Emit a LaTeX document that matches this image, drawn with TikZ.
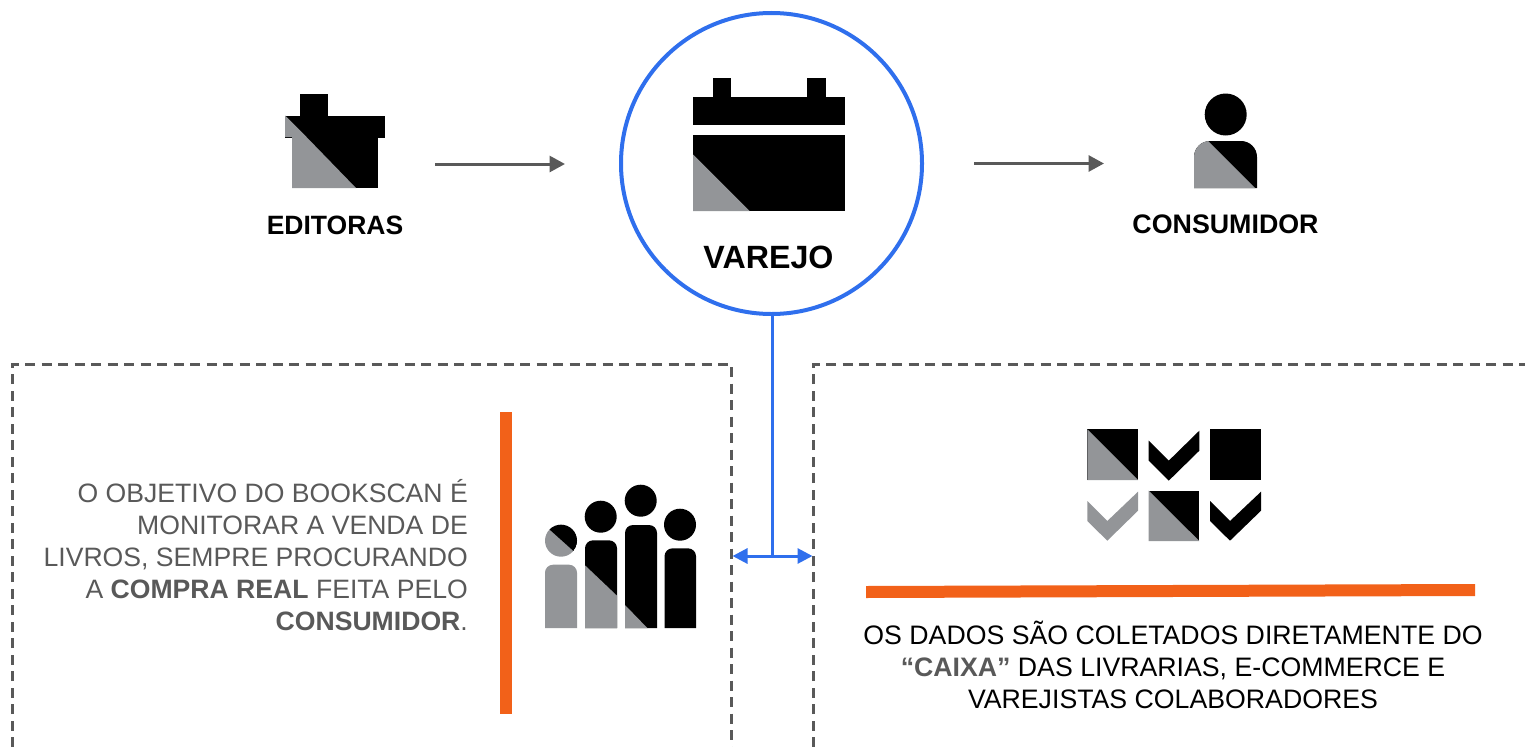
\documentclass[tikz,border=0pt]{standalone}
\usepackage{fontspec}
\setmainfont{Liberation Sans}
\usetikzlibrary{arrows.meta}
\definecolor{icongray}{HTML}{939598}
\definecolor{dashgray}{HTML}{595959}
\definecolor{txtgray}{HTML}{595959}
\definecolor{ringblue}{HTML}{2F6FED}
\definecolor{barorange}{HTML}{F26119}
\tikzset{
  lbl/.style={font=\fontsize{26.5bp}{30bp}\selectfont\bfseries, text=black, inner sep=0pt},
  flow/.style={draw=dashgray, line width=3bp, -{Triangle[length=15.5bp,width=16bp]}},
  link/.style={draw=ringblue, line width=3.5bp},
  reach/.style={draw=ringblue, line width=3bp, {Triangle[length=15bp,width=15bp]}-{Triangle[length=15bp,width=15bp]}},
  panel/.style={draw=dashgray, line width=3bp, dash pattern=on 10bp off 6.5bp},
  gr/.style={fill=icongray, draw=none},
  bk/.style={fill=black, draw=none},
  bar/.style={fill=barorange, draw=none},
}
\begin{document}
\begin{tikzpicture}[x=1bp,y=-1bp]
\useasboundingbox (0,0) rectangle (1525,747);
\clip (0,0) rectangle (1525,747);
% panels
\draw[panel] (12,747) -- (12,364) -- (731.5,364) -- (731.5,747);
\draw[panel] (813,747) -- (813,364) -- (1525,364);
% central ring
\node (varejo) [circle, draw=ringblue, line width=4bp, minimum size=301bp, inner sep=0pt] at (771.5,163.5) {};
\node (varejotxt) [lbl, font=\fontsize{32.2bp}{36bp}\selectfont\bfseries] at (768.5,257) {VAREJO};
\node (editoras) [lbl] at (335,225) {EDITORAS};
\node (consumidor) [lbl, font=\fontsize{26.8bp}{30bp}\selectfont\bfseries] at (1225.5,224) {CONSUMIDOR};
% flow arrows
\coordinate (f1a) at (435,164); \coordinate (f1b) at (565,164);
\coordinate (f2a) at (974,163.5); \coordinate (f2b) at (1104,163.5);
\draw[flow] (f1a) -- (f1b);
\draw[flow] (f2a) -- (f2b);
% blue connectors
\coordinate (jn) at (772.5,556);
\coordinate (jl) at (732.5,556); \coordinate (jr) at (812.5,556);
\draw[link] (varejo.south -| jn) -- (jn);
\draw[reach] (jl) -- (jr);
% house
\fill[bk] (299.5,93.5) rectangle (328,116);
\fill[bk] (285,115.5) rectangle (385,137.5);
\fill[bk] (292,137) rectangle (378,188);
\fill[gr] (285,115.5) -- (306.5,137) -- (285,137) -- cycle;
\fill[gr] (292,137) -- (306.5,137) -- (356,188) -- (292,188) -- cycle;
% battery
\fill[bk] (712.7,77.5) rectangle (731,97.5);
\fill[bk] (807.3,77.5) rectangle (826,97.5);
\fill[bk] (693,97) rectangle (845,125);
\fill[bk] (693,135) rectangle (845,211);
\fill[gr] (693,154.5) -- (749.5,211) -- (693,211) -- cycle;
% person
\fill[bk] (1225.7,114.5) circle[radius=21];
\fill[bk] (1194,188) [rounded corners=16] -- (1194,141) -- (1257,141) [sharp corners] -- (1257,188) -- cycle;
\begin{scope}
\clip (1194,188) [rounded corners=16] -- (1194,141) -- (1257,141) [sharp corners] -- (1257,188) -- cycle;
\fill[gr] (1194,188) -- (1190,141) -- (1208,141) -- (1255,188) -- cycle;
\end{scope}
% people
\fill[gr] (561,540.7) circle[radius=16];
\begin{scope}
\clip (561,540.7) circle[radius=16];
\fill[bk] (549,529) -- (573.5,551) -- (590,520) -- (560,515) -- cycle;
\end{scope}
\fill[gr] (545,628) [rounded corners=8] -- (545,564.7) -- (577,564.7) [sharp corners] -- (577,628) -- cycle;
\fill[bk] (600.7,516.7) circle[radius=16];
\fill[bk] (585,628) [rounded corners=8] -- (585,540.3) -- (617,540.3) [sharp corners] -- (617,628) -- cycle;
\fill[gr] (585,565.3) -- (617,595.7) -- (617,628) -- (585,628) -- cycle;
\fill[bk] (640.7,500.7) circle[radius=16];
\fill[bk] (625,628) [rounded corners=8] -- (625,525) -- (657,525) [sharp corners] -- (657,628) -- cycle;
\fill[gr] (625,605) -- (647.3,628) -- (625,628) -- cycle;
\fill[bk] (680,524.7) circle[radius=16];
\fill[bk] (664.5,628) [rounded corners=8] -- (664.5,548.3) -- (696,548.3) [sharp corners] -- (696,628) -- cycle;
% checks grid
\fill[bk] (1087.3,429.3) rectangle (1138,480);
\fill[gr] (1087.3,429.3) -- (1138,480) -- (1087.3,480) -- cycle;
\fill[bk] (1148.7,440.7) -- (1168.7,460.7) -- (1199.3,430.7) -- (1199.3,450.7) -- (1168.7,480.7) -- (1148.7,460.7) -- cycle;
\fill[bk] (1210,429.3) rectangle (1261,480);
\fill[gr] (1087.3,501) -- (1107.3,521) -- (1138,491.7) -- (1138,510.7) -- (1107.3,540.7) -- (1087.3,521) -- cycle;
\fill[bk] (1148.7,490.7) rectangle (1199.3,541);
\fill[gr] (1148.7,490.7) -- (1199.3,541) -- (1148.7,541) -- cycle;
\fill[bk] (1210,501) -- (1230,521) -- (1261,491.7) -- (1261,510.7) -- (1230,540.7) -- (1210,521) -- cycle;
% orange bars
\fill[bar] (500,412) rectangle (512,714);
\fill[bar] (866,586) -- (1475,584) -- (1475,596) -- (866,598) -- cycle;
% texts
\node (lefttext) [anchor=east, align=right, inner sep=0pt, text=txtgray, font=\fontsize{26.6bp}{32bp}\selectfont] at (468,555.5) {O OBJETIVO DO BOOKSCAN É\\MONITORAR A VENDA DE\\LIVROS, SEMPRE PROCURANDO\\A \textbf{COMPRA REAL} FEITA PELO\\\textbf{CONSUMIDOR}.};
\node (righttext) [align=center, inner sep=0pt, text=black, font=\fontsize{26.7bp}{32bp}\selectfont] at (1173,665) {OS DADOS SÃO COLETADOS DIRETAMENTE DO\\\textcolor{txtgray}{\textbf{“CAIXA”}} DAS LIVRARIAS, E-COMMERCE E\\VAREJISTAS COLABORADORES};
\end{tikzpicture}
\end{document}
